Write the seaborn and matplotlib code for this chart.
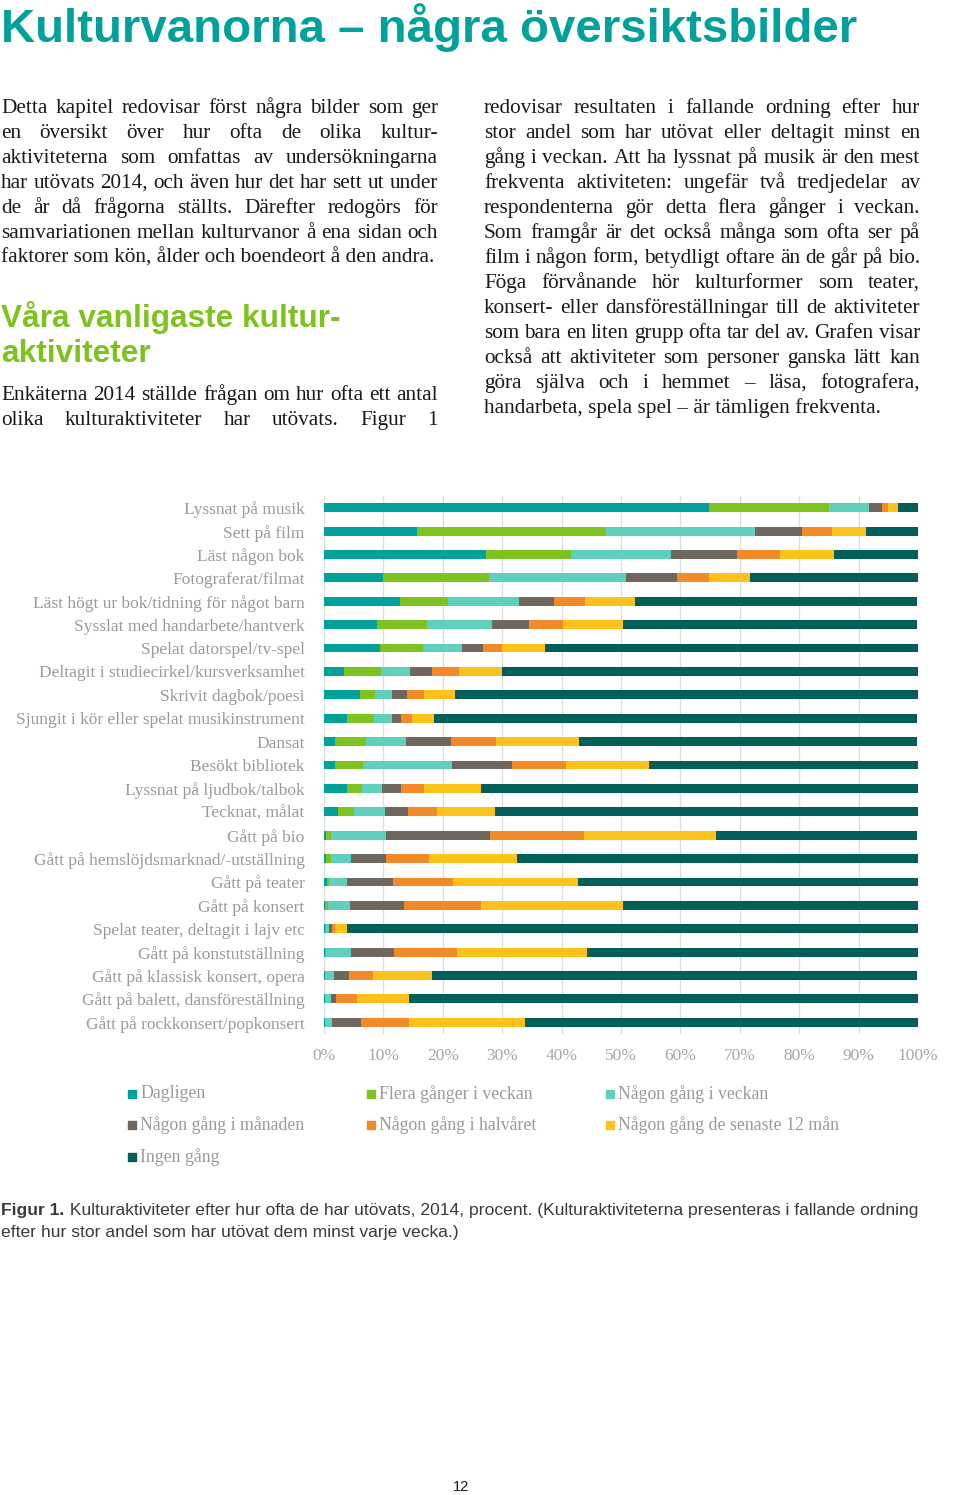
import matplotlib
matplotlib.use("Agg")
import matplotlib.pyplot as plt
from matplotlib import font_manager as fm
from matplotlib.patches import Rectangle
import numpy as np
import pandas as pd
import seaborn as sns

# -------------------
# DATA (percent of respondents)
# -------------------
activities = [
    "Lyssnat på musik", "Sett på film", "Läst någon bok", "Fotograferat/filmat",
    "Läst högt ur bok/tidning för något barn", "Sysslat med handarbete/hantverk",
    "Spelat datorspel/tv-spel", "Deltagit i studiecirkel/kursverksamhet",
    "Skrivit dagbok/poesi", "Sjungit i kör eller spelat musikinstrument", "Dansat",
    "Besökt bibliotek", "Lyssnat på ljudbok/talbok", "Tecknat, målat", "Gått på bio",
    "Gått på hemslöjdsmarknad/-utställning", "Gått på teater", "Gått på konsert",
    "Spelat teater, deltagit i lajv etc", "Gått på konstutställning",
    "Gått på klassisk konsert, opera", "Gått på balett, dansföreställning",
    "Gått på rockkonsert/popkonsert",
]
dagligen = [64.8, 15.6, 27.3, 9.9, 12.8, 9.0, 9.5, 3.4, 6.1, 3.9, 1.9, 1.9, 3.9, 2.4,
            0.3, 0.4, 0.5, 0.1, 0.1, 0.1, 0.1, 0.1, 0.1]
flera_ggr = [20.2, 31.9, 14.2, 17.9, 8.1, 8.4, 7.2, 6.2, 2.5, 4.6, 5.2, 4.6, 2.5, 2.6,
             0.9, 0.7, 0.4, 0.5, 0.2, 0.2, 0.1, 0.1, 0.1]
veckan = [6.7, 25.0, 16.9, 23.1, 11.9, 10.9, 6.5, 4.9, 2.8, 2.9, 6.7, 15.1, 3.4, 5.2,
          9.2, 3.4, 3.0, 3.8, 0.6, 4.3, 1.4, 0.9, 1.1]
manaden = [2.2, 7.9, 11.1, 8.6, 6.0, 6.2, 3.5, 3.7, 2.5, 1.6, 7.6, 10.1, 3.2, 4.0,
           17.5, 5.9, 7.8, 9.1, 0.5, 7.2, 2.6, 1.0, 4.9]
halvaret = [1.1, 5.2, 7.2, 5.3, 5.1, 5.7, 3.2, 4.6, 3.0, 1.8, 7.6, 9.0, 3.9, 4.9,
            15.9, 7.2, 10.1, 12.9, 0.5, 10.6, 4.1, 3.4, 8.1]
tolv_man = [1.6, 5.6, 9.1, 6.9, 8.4, 10.1, 7.3, 7.2, 5.2, 3.8, 13.9, 14.0, 9.5, 9.7,
            22.2, 14.9, 21.0, 23.9, 1.9, 21.9, 9.9, 8.8, 19.6]
ingen = [3.5, 8.8, 14.3, 28.4, 47.6, 49.6, 62.8, 70.0, 78.0, 81.3, 57.0, 45.4, 73.6, 71.2,
         33.9, 67.6, 57.3, 49.7, 96.2, 55.7, 81.7, 85.7, 66.1]

series_names = ["Dagligen", "Flera gånger i veckan", "Någon gång i veckan",
                "Någon gång i månaden", "Någon gång i halvåret",
                "Någon gång de senaste 12 mån", "Ingen gång"]
series_colors = ["#00A19A", "#7DC21E", "#5FD0BE", "#6F665E", "#F28A2A", "#FFC21A", "#005F59"]
x_ticks = [0, 10, 20, 30, 40, 50, 60, 70, 80, 90, 100]

# -------------------
# PAGE TEXT
# -------------------
title = "Kulturvanorna – några översiktsbilder"
left_par1 = [
    "Detta kapitel redovisar först några bilder som ger",
    "en översikt över hur ofta de olika kultur-",
    "aktiviteterna som omfattas av undersökningarna",
    "har utövats 2014, och även hur det har sett ut under",
    "de år då frågorna ställts. Därefter redogörs för",
    "samvariationen mellan kulturvanor å ena sidan och",
    "faktorer som kön, ålder och boendeort å den andra.",
]
heading = ["Våra vanligaste kultur-", "aktiviteter"]
left_par2 = [
    "Enkäterna 2014 ställde frågan om hur ofta ett antal",
    "olika kulturaktiviteter har utövats. Figur 1",
]
right_par = [
    "redovisar resultaten i fallande ordning efter hur",
    "stor andel som har utövat eller deltagit minst en",
    "gång i veckan. Att ha lyssnat på musik är den mest",
    "frekventa aktiviteten: ungefär två tredjedelar av",
    "respondenterna gör detta flera gånger i veckan.",
    "Som framgår är det också många som ofta ser på",
    "film i någon form, betydligt oftare än de går på bio.",
    "Föga förvånande hör kulturformer som teater,",
    "konsert- eller dansföreställningar till de aktiviteter",
    "som bara en liten grupp ofta tar del av. Grafen visar",
    "också att aktiviteter som personer ganska lätt kan",
    "göra själva och i hemmet – läsa, fotografera,",
    "handarbeta, spela spel – är tämligen frekventa.",
]
caption_bold = "Figur 1."
caption_1 = " Kulturaktiviteter efter hur ofta de har utövats, 2014, procent. (Kulturaktiviteterna presenteras i fallande ordning"
caption_2 = "efter hur stor andel som har utövat dem minst varje vecka.)"

# -------------------
# FIGURE
# -------------------
W, H = 960, 1495
fig = plt.figure(figsize=(W / 100, H / 100), dpi=100)
fig.patch.set_facecolor("white")
renderer = fig.canvas.get_renderer()

installed = {f.name for f in fm.fontManager.ttflist}
sans = "Liberation Sans"
narrow = "Liberation Sans Narrow" if "Liberation Sans Narrow" in installed else sans
serif = "Liberation Serif"


def fy(y):
    return 1 - y / H


def fit_text(x, y, s, width, size, **kw):
    # shrink/grow a single line so it spans the given pixel width
    t = fig.text(x / W, fy(y), s, fontsize=size, **kw)
    w = t.get_window_extent(renderer).width
    t.set_fontsize(size * width / w)
    return t


def justified(x0, x1, y, line, size, justify=True, **kw):
    words = line.split(" ")
    if not justify or len(words) == 1:
        fig.text(x0 / W, fy(y), line, fontsize=size, va="baseline", **kw)
        return
    texts = [fig.text(0, 0, w, fontsize=size, va="baseline", **kw) for w in words]
    widths = [t.get_window_extent(renderer).width for t in texts]
    gap = ((x1 - x0) - sum(widths)) / (len(words) - 1)
    x = x0
    for t, w in zip(texts, widths):
        t.set_position((x / W, fy(y)))
        x += w + gap


body = dict(family=serif, color="#1A1A1A")
body_size = 15.3

fit_text(1, 42, title, 857, 36, family=narrow, weight="bold", color="#00A19A", va="baseline")

for i, line in enumerate(left_par1):
    justified(1, 438, 113 + 25 * i, line, body_size, justify=(i < len(left_par1) - 1), **body)

fig.text(1 / W, fy(327), heading[0], fontsize=22.8, family=sans, weight="bold",
         color="#7DC21E", va="baseline")
fig.text(1 / W, fy(362), heading[1], fontsize=22.8, family=sans, weight="bold",
         color="#7DC21E", va="baseline")

for i, line in enumerate(left_par2):
    justified(1, 438, 400 + 25 * i, line, body_size, justify=True, **body)

for i, line in enumerate(right_par):
    justified(484, 920, 113 + 25 * i, line, body_size, justify=(i < len(right_par) - 1), **body)

# -------------------
# STACKED BAR CHART
# -------------------
df = pd.DataFrame({"activity": activities})
for name, vals in zip(series_names, [dagligen, flera_ggr, veckan, manaden, halvaret, tolv_man, ingen]):
    df[name] = vals
cum = df[series_names].cumsum(axis=1)

ax = fig.add_axes([324 / W, fy(1034), (918 - 324) / W, (1034 - 496) / H])
ax.set_axisbelow(True)
ax.grid(axis="x", color="#DCDCDC", linewidth=0.9)

# draw cumulative totals from the outermost segment inwards
for name, color in reversed(list(zip(series_names, series_colors))):
    sns.barplot(data=pd.DataFrame({"activity": activities, "cum": cum[name]}),
                x="cum", y="activity", orient="h", color=color, width=0.38,
                errorbar=None, saturation=1, linewidth=0, ax=ax)

ax.set_xlim(0, 100)
ax.set_xticks(x_ticks)
ax.set_xticklabels([f"{t}%" for t in x_ticks], family=serif, fontsize=12.5, color="#A6A6A6")
ax.tick_params(axis="x", length=0, pad=10)
ax.tick_params(axis="y", length=0, pad=14)
for lab in ax.get_yticklabels():
    lab.set_family(serif)
    lab.set_fontsize(12.5)
    lab.set_color("#9A9A9A")
ax.set_xlabel("")
ax.set_ylabel("")
for sp in ax.spines.values():
    sp.set_visible(False)

# legend laid out in three columns like the original
leg_cols = [128, 367, 606]
leg_rows = [1094, 1125, 1157]
for i, (name, color) in enumerate(zip(series_names, series_colors)):
    cx = leg_cols[i % 3]
    cy = leg_rows[i // 3]
    fig.patches.append(Rectangle((cx / W, fy(cy + 4)), 8 / W, 8 / H, color=color,
                                 transform=fig.transFigure, figure=fig))
    fig.text((cx + 12) / W, fy(cy), name, family=serif, fontsize=12.8, color="#9A9A9A",
             va="center")

# caption
cap_size = 12.5
tb = fig.text(1 / W, fy(1215), caption_bold, family=narrow, weight="bold", fontsize=cap_size,
              color="#3A3A3A", va="baseline")
bw = tb.get_window_extent(renderer).width
tc = fig.text((1 + bw) / W, fy(1215), caption_1, family=narrow, fontsize=cap_size,
              color="#3A3A3A", va="baseline")
cw = tc.get_window_extent(renderer).width
scale = (920 - 1) / (bw + cw)
tb.set_fontsize(cap_size * scale)
tc.set_fontsize(cap_size * scale)
tc.set_position(((1 + bw * scale) / W, fy(1215)))
fig.text(1 / W, fy(1237), caption_2, family=narrow, fontsize=cap_size * scale,
         color="#3A3A3A", va="baseline")

fig.text(461 / W, fy(1487), "12", family=sans, fontsize=10.5, color="#1A1A1A",
         ha="center", va="center")

fig.savefig("out.png", dpi=100, facecolor="white")
